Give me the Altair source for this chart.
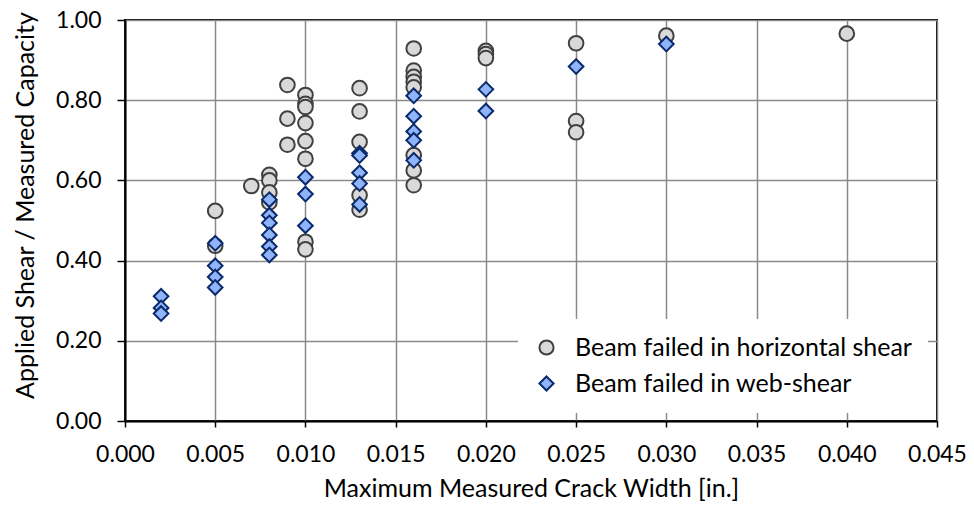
import altair as alt
import pandas as pd

# Beam failed in horizontal shear (circles)
hs_x = [0.005, 0.005, 0.007, 0.008, 0.008, 0.008, 0.008,
        0.009, 0.009, 0.009,
        0.010, 0.010, 0.010, 0.010, 0.010, 0.010, 0.010, 0.010,
        0.013, 0.013, 0.013, 0.013, 0.013,
        0.016, 0.016, 0.016, 0.016, 0.016, 0.016, 0.016, 0.016,
        0.020, 0.020, 0.020,
        0.025, 0.025, 0.025,
        0.030, 0.040]
hs_y = [0.524, 0.437, 0.586, 0.614, 0.600, 0.570, 0.545,
        0.838, 0.754, 0.689,
        0.813, 0.791, 0.783, 0.743, 0.698, 0.654, 0.447, 0.428,
        0.830, 0.772, 0.696, 0.563, 0.527,
        0.929, 0.874, 0.858, 0.846, 0.832, 0.663, 0.625, 0.588,
        0.923, 0.915, 0.905,
        0.942, 0.748, 0.720,
        0.961, 0.966]

# Beam failed in web-shear (diamonds)
ws_x = [0.002, 0.002, 0.002,
        0.005, 0.005, 0.005, 0.005,
        0.008, 0.008, 0.008, 0.008, 0.008, 0.008,
        0.010, 0.010, 0.010,
        0.013, 0.013, 0.013, 0.013, 0.013,
        0.016, 0.016, 0.016, 0.016, 0.016,
        0.020, 0.020,
        0.025, 0.030]
ws_y = [0.311, 0.282, 0.268,
        0.443, 0.387, 0.359, 0.333,
        0.552, 0.513, 0.494, 0.464, 0.435, 0.414,
        0.608, 0.566, 0.487,
        0.668, 0.662, 0.619, 0.592, 0.540,
        0.811, 0.760, 0.722, 0.700, 0.650,
        0.827, 0.773,
        0.884, 0.940]

series_names = ["Beam failed in horizontal shear", "Beam failed in web-shear"]
x_ticks = [0.000, 0.005, 0.010, 0.015, 0.020, 0.025, 0.030, 0.035, 0.040, 0.045]
y_ticks = [0.0, 0.2, 0.4, 0.6, 0.8, 1.0]

df = pd.concat([
    pd.DataFrame({"x": hs_x, "y": hs_y, "series": series_names[0], "order": 0}),
    pd.DataFrame({"x": ws_x, "y": ws_y, "series": series_names[1], "order": 1}),
], ignore_index=True)

FONT = "Lato"

legend = alt.Legend(title=None, orient="none", legendX=393, legendY=299)

chart = alt.Chart(df).mark_point(filled=True, strokeWidth=2, opacity=1, size=215).encode(
    x=alt.X("x:Q",
            scale=alt.Scale(domain=[0, 0.045], nice=False, zero=False),
            axis=alt.Axis(values=x_ticks, format=".3f", labelFlush=False,
                          title="Maximum Measured Crack Width [in.]",
                          tickSize=6, labelPadding=16, titlePadding=10,
                          titleFontSize=25)),
    y=alt.Y("y:Q",
            scale=alt.Scale(domain=[0, 1], nice=False),
            axis=alt.Axis(values=y_ticks, format=".2f", labelFlush=False,
                          title="Applied Shear / Measured Capacity",
                          tickSize=8, labelPadding=16,
                          titleX=-100, titleY=185, titleBaseline="middle",
                          titleFontSize=25)),
    shape=alt.Shape("series:N",
                    scale=alt.Scale(domain=series_names, range=["circle", "diamond"]),
                    legend=legend),
    fill=alt.Fill("series:N",
                  scale=alt.Scale(domain=series_names, range=["#d9d9d9", "#8fb4fa"]),
                  legend=legend),
    stroke=alt.Stroke("series:N",
                      scale=alt.Scale(domain=series_names, range=["#404040", "#0a2a6b"]),
                      legend=legend),
    order=alt.Order("order:Q"),
).properties(
    width=812, height=401,
    autosize=alt.AutoSizeParams(type="none"),
    padding={"left": 117, "top": 12, "right": 29, "bottom": 80},
).configure_view(
    stroke="black", strokeWidth=2
).configure_axis(
    grid=True, gridColor="#8a8a8a", gridWidth=1.5,
    domainColor="black", domainWidth=2,
    tickColor="black", tickWidth=1.5,
    labelFont=FONT, labelFontSize=23, labelColor="black",
    titleFont=FONT, titleFontWeight="normal", titleColor="black",
).configure_legend(
    fillColor="white", padding=16, rowPadding=10,
    labelFont=FONT, labelFontSize=25, labelColor="black",
    symbolSize=200, symbolStrokeWidth=2, symbolOpacity=1,
    labelOffset=16, labelLimit=600,
)

chart.save("out.html", embed_options={"renderer": "svg", "actions": False})
